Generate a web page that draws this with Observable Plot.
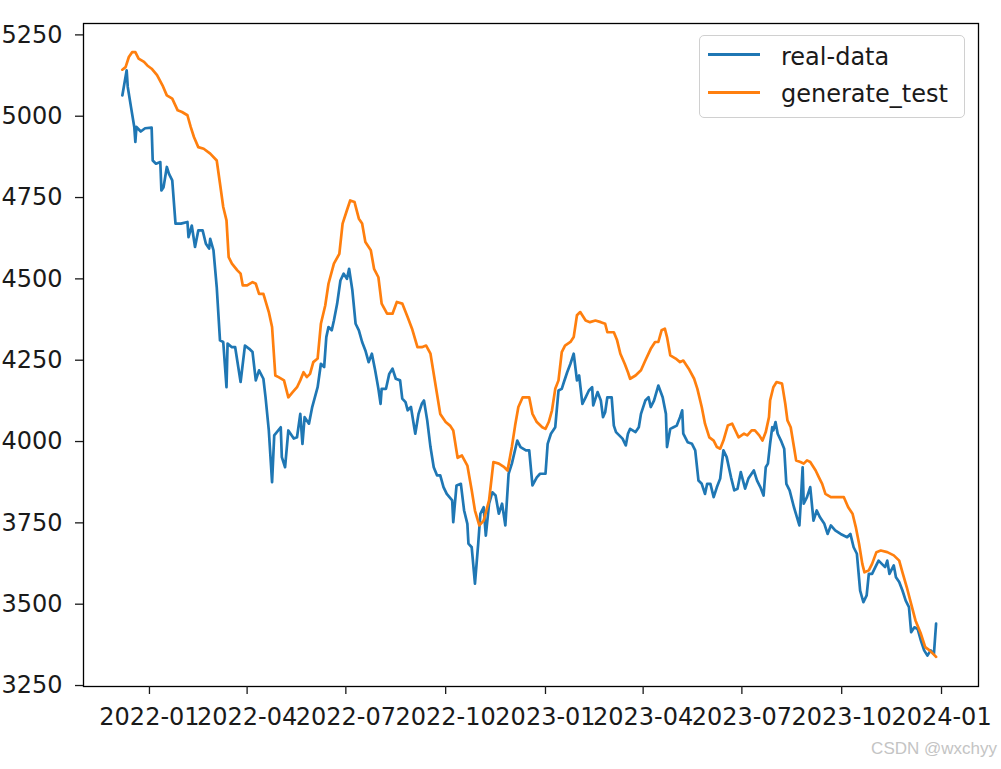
<!DOCTYPE html>
<html>
<head>
<meta charset="utf-8">
<script src="https://cdn.jsdelivr.net/npm/d3@7"></script>
<script src="https://cdn.jsdelivr.net/npm/@observablehq/plot@0.6"></script>
<style>
  html, body { margin: 0; padding: 0; background: #fff; }
  #wrap { position: relative; width: 1001px; height: 769px; overflow: hidden; background: #fff; }
  #wrap svg { position: absolute; left: 0; top: 0; }
  .legend-box { position: absolute; left: 699px; top: 35px; width: 264px; height: 81px;
    border: 1.5px solid #d0d0d0; border-radius: 5px; background: rgba(255,255,255,0.8); }
  .legend-line { position: absolute; left: 708px; width: 52px; height: 2.7px; }
  .legend-text { position: absolute; left: 781px; font-family: "DejaVu Sans", sans-serif; font-size: 24px; line-height: 24px; color: #1a1a1a; white-space: nowrap; }
  .mark { position: absolute; right: 4px; top: 740px; font-family: "Liberation Sans", Arial, sans-serif; font-size: 17px; line-height: 17px; color: #c4c4c4; white-space: nowrap; }
</style>
</head>
<body>
<div id="wrap"></div>
<script>
const seriesNames = ["real-data", "generate_test"];
const seriesColors = ["#1f77b4", "#ff7f0e"];
const watermark = "CSDN @wxchyy";

const xTickLabels = ["2022-01","2022-04","2022-07","2022-10","2023-01","2023-04","2023-07","2023-10","2024-01"];
const yTicks = [3250, 3500, 3750, 4000, 4250, 4500, 4750, 5000, 5250];

const realDates = ["2021-12-07","2021-12-11","2021-12-12","2021-12-15","2021-12-18","2021-12-19","2021-12-20","2021-12-24","2021-12-28","2022-01-03","2022-01-04","2022-01-07","2022-01-11","2022-01-12","2022-01-14","2022-01-17","2022-01-19","2022-01-22","2022-01-25","2022-01-30","2022-02-05","2022-02-06","2022-02-09","2022-02-12","2022-02-15","2022-02-19","2022-02-22","2022-02-25","2022-02-26","2022-03-01","2022-03-04","2022-03-07","2022-03-10","2022-03-13","2022-03-14","2022-03-18","2022-03-21","2022-03-26","2022-03-30","2022-04-03","2022-04-06","2022-04-09","2022-04-12","2022-04-16","2022-04-18","2022-04-21","2022-04-24","2022-04-26","2022-05-02","2022-05-03","2022-05-06","2022-05-09","2022-05-14","2022-05-17","2022-05-20","2022-05-22","2022-05-24","2022-05-28","2022-05-31","2022-06-05","2022-06-08","2022-06-11","2022-06-13","2022-06-15","2022-06-18","2022-06-20","2022-06-23","2022-06-26","2022-06-29","2022-07-02","2022-07-04","2022-07-07","2022-07-10","2022-07-13","2022-07-16","2022-07-19","2022-07-22","2022-07-25","2022-07-28","2022-07-31","2022-08-02","2022-08-03","2022-08-07","2022-08-10","2022-08-13","2022-08-16","2022-08-20","2022-08-22","2022-08-25","2022-08-27","2022-08-30","2022-09-02","2022-09-03","2022-09-06","2022-09-09","2022-09-11","2022-09-14","2022-09-17","2022-09-20","2022-09-23","2022-09-26","2022-09-29","2022-10-02","2022-10-07","2022-10-08","2022-10-11","2022-10-15","2022-10-18","2022-10-21","2022-10-22","2022-10-25","2022-10-28","2022-10-31","2022-11-02","2022-11-05","2022-11-07","2022-11-10","2022-11-13","2022-11-16","2022-11-19","2022-11-22","2022-11-25","2022-11-28","2022-12-01","2022-12-06","2022-12-09","2022-12-14","2022-12-17","2022-12-20","2022-12-24","2022-12-27","2023-01-01","2023-01-03","2023-01-06","2023-01-10","2023-01-13","2023-01-16","2023-01-18","2023-01-21","2023-01-24","2023-01-27","2023-01-30","2023-02-01","2023-02-04","2023-02-07","2023-02-10","2023-02-13","2023-02-14","2023-02-18","2023-02-21","2023-02-23","2023-02-25","2023-02-27","2023-03-03","2023-03-05","2023-03-07","2023-03-10","2023-03-13","2023-03-16","2023-03-18","2023-03-20","2023-03-25","2023-03-28","2023-03-30","2023-04-03","2023-04-06","2023-04-08","2023-04-11","2023-04-15","2023-04-19","2023-04-22","2023-04-23","2023-04-26","2023-04-29","2023-05-02","2023-05-05","2023-05-07","2023-05-08","2023-05-12","2023-05-16","2023-05-19","2023-05-22","2023-05-25","2023-05-28","2023-05-30","2023-06-02","2023-06-05","2023-06-08","2023-06-11","2023-06-14","2023-06-17","2023-06-21","2023-06-24","2023-06-27","2023-06-30","2023-07-04","2023-07-07","2023-07-12","2023-07-15","2023-07-18","2023-07-21","2023-07-23","2023-07-25","2023-07-27","2023-07-29","2023-07-30","2023-08-01","2023-08-03","2023-08-06","2023-08-09","2023-08-11","2023-08-14","2023-08-18","2023-08-23","2023-08-24","2023-08-26","2023-08-27","2023-08-30","2023-09-02","2023-09-05","2023-09-08","2023-09-11","2023-09-15","2023-09-18","2023-09-21","2023-09-25","2023-09-30","2023-10-06","2023-10-09","2023-10-12","2023-10-15","2023-10-18","2023-10-21","2023-10-24","2023-10-26","2023-10-29","2023-11-01","2023-11-04","2023-11-07","2023-11-10","2023-11-12","2023-11-14","2023-11-18","2023-11-20","2023-11-23","2023-11-26","2023-11-29","2023-12-02","2023-12-04","2023-12-07","2023-12-10","2023-12-13","2023-12-16","2023-12-19","2023-12-22","2023-12-25","2023-12-27"];
const realValues = [5064,5141,5090,5028,4967,4921,4967,4953,4963,4965,4864,4854,4859,4772,4782,4844,4823,4803,4670,4670,4675,4628,4664,4598,4649,4649,4608,4593,4623,4588,4475,4311,4306,4167,4301,4290,4290,4183,4295,4285,4275,4188,4219,4193,4136,4034,3875,4019,4044,3952,3921,4034,4009,4013,4085,3993,4075,4055,4106,4167,4239,4229,4321,4352,4342,4372,4424,4495,4516,4500,4531,4465,4362,4342,4306,4280,4244,4270,4219,4162,4116,4162,4162,4208,4224,4193,4188,4132,4121,4096,4106,4044,4024,4085,4116,4126,4065,3983,3921,3896,3896,3860,3839,3819,3752,3865,3870,3788,3747,3686,3675,3563,3686,3778,3798,3711,3809,3844,3834,3778,3809,3742,3901,3932,4003,3983,3973,3973,3865,3890,3901,3901,3993,4024,4044,4157,4162,4183,4213,4239,4270,4188,4203,4116,4136,4157,4167,4111,4152,4126,4075,4090,4136,4136,4049,4029,4019,4009,3988,4024,4039,4029,4044,4085,4126,4136,4106,4126,4172,4136,4085,3983,4039,4044,4049,4075,4096,4024,3998,3993,3973,3880,3870,3839,3870,3870,3829,3860,3886,3973,3952,3890,3850,3855,3906,3855,3886,3911,3880,3860,3834,3921,3932,3993,4044,4034,4060,4024,4003,3978,3870,3850,3798,3742,3798,3921,3809,3829,3860,3757,3788,3767,3747,3716,3742,3727,3716,3706,3716,3675,3655,3542,3506,3527,3593,3593,3614,3634,3624,3614,3634,3593,3619,3583,3568,3542,3511,3491,3414,3429,3424,3388,3358,3342,3358,3347,3440];

const genDates = ["2021-12-07","2021-12-10","2021-12-13","2021-12-16","2021-12-19","2021-12-22","2021-12-27","2021-12-30","2022-01-03","2022-01-08","2022-01-13","2022-01-17","2022-01-22","2022-01-27","2022-01-31","2022-02-05","2022-02-08","2022-02-11","2022-02-15","2022-02-20","2022-02-26","2022-03-04","2022-03-07","2022-03-10","2022-03-13","2022-03-15","2022-03-18","2022-03-23","2022-03-26","2022-03-28","2022-04-01","2022-04-06","2022-04-09","2022-04-12","2022-04-16","2022-04-21","2022-04-24","2022-04-27","2022-04-30","2022-05-05","2022-05-09","2022-05-13","2022-05-17","2022-05-20","2022-05-23","2022-05-26","2022-05-29","2022-06-01","2022-06-05","2022-06-08","2022-06-12","2022-06-15","2022-06-20","2022-06-25","2022-06-28","2022-07-02","2022-07-05","2022-07-09","2022-07-13","2022-07-16","2022-07-19","2022-07-24","2022-07-27","2022-07-31","2022-08-03","2022-08-08","2022-08-13","2022-08-17","2022-08-22","2022-08-27","2022-08-31","2022-09-05","2022-09-09","2022-09-13","2022-09-17","2022-09-22","2022-09-26","2022-10-01","2022-10-05","2022-10-08","2022-10-12","2022-10-16","2022-10-21","2022-10-25","2022-10-28","2022-11-01","2022-11-05","2022-11-10","2022-11-14","2022-11-19","2022-11-24","2022-11-27","2022-12-01","2022-12-04","2022-12-07","2022-12-11","2022-12-17","2022-12-20","2022-12-24","2022-12-29","2023-01-01","2023-01-04","2023-01-07","2023-01-10","2023-01-13","2023-01-16","2023-01-19","2023-01-24","2023-01-27","2023-01-30","2023-02-02","2023-02-07","2023-02-11","2023-02-16","2023-02-21","2023-02-25","2023-02-27","2023-03-05","2023-03-08","2023-03-11","2023-03-15","2023-03-18","2023-03-20","2023-03-25","2023-03-30","2023-04-03","2023-04-08","2023-04-12","2023-04-15","2023-04-18","2023-04-21","2023-04-23","2023-04-26","2023-05-01","2023-05-05","2023-05-08","2023-05-13","2023-05-18","2023-05-21","2023-05-25","2023-05-28","2023-06-01","2023-06-05","2023-06-08","2023-06-11","2023-06-14","2023-06-18","2023-06-22","2023-06-25","2023-06-28","2023-07-03","2023-07-06","2023-07-10","2023-07-13","2023-07-17","2023-07-20","2023-07-23","2023-07-26","2023-07-27","2023-07-30","2023-08-02","2023-08-07","2023-08-10","2023-08-12","2023-08-15","2023-08-18","2023-08-20","2023-08-24","2023-08-27","2023-08-30","2023-09-02","2023-09-07","2023-09-10","2023-09-13","2023-09-16","2023-09-21","2023-09-27","2023-10-03","2023-10-07","2023-10-11","2023-10-14","2023-10-17","2023-10-20","2023-10-22","2023-10-26","2023-10-29","2023-11-02","2023-11-06","2023-11-12","2023-11-18","2023-11-23","2023-11-26","2023-11-30","2023-12-04","2023-12-08","2023-12-13","2023-12-17","2023-12-21","2023-12-25","2023-12-27"];
const genValues = [5143,5151,5182,5197,5197,5177,5167,5156,5146,5126,5095,5064,5054,5018,5013,5003,4967,4936,4905,4900,4885,4864,4793,4721,4680,4567,4547,4526,4516,4480,4480,4490,4485,4454,4454,4398,4352,4203,4198,4188,4136,4152,4167,4188,4213,4198,4208,4244,4255,4362,4418,4485,4547,4577,4670,4711,4741,4736,4685,4670,4613,4588,4531,4505,4424,4393,4393,4429,4424,4382,4347,4290,4290,4295,4270,4167,4085,4060,4049,4034,3950,3957,3926,3850,3788,3742,3757,3819,3937,3932,3921,3911,3983,4049,4106,4136,4136,4085,4060,4044,4039,4060,4096,4162,4188,4275,4295,4306,4321,4388,4398,4372,4367,4372,4367,4362,4336,4336,4311,4270,4239,4213,4193,4203,4219,4249,4285,4306,4306,4342,4347,4321,4265,4255,4244,4249,4224,4193,4162,4106,4055,4013,4003,3983,3978,4003,4049,4055,4034,4013,4024,4019,4034,4034,4019,4003,4029,4075,4126,4167,4183,4178,4116,4065,4044,3983,3942,3937,3932,3942,3937,3911,3890,3870,3839,3829,3829,3829,3798,3778,3737,3686,3624,3598,3604,3624,3660,3665,3660,3650,3634,3598,3552,3501,3450,3409,3368,3358,3345,3338];

function toRows(dates, values) {
  const n = Math.min(dates.length, values.length);
  const rows = [];
  for (let i = 0; i < n; i++) rows.push({date: new Date(dates[i] + "T00:00:00Z"), value: values[i]});
  return rows;
}
const realRows = toRows(realDates, realValues);
const genRows = toRows(genDates, genValues);
const xTickDates = xTickLabels.map(s => new Date(s + "-01T00:00:00Z"));

const chart = Plot.plot({
  width: 1001,
  height: 769,
  marginTop: 23,
  marginBottom: 83,
  marginLeft: 83,
  marginRight: 23,
  style: {fontFamily: "DejaVu Sans", fontSize: "24px", color: "#1a1a1a", background: "transparent"},
  x: {type: "utc", domain: [new Date("2021-11-01T05:00:00Z"), new Date("2024-02-04T02:00:00Z")]},
  y: {domain: [3247, 5285]},
  marks: [
    Plot.line(realRows, {x: "date", y: "value", stroke: seriesColors[0], strokeWidth: 2.7}),
    Plot.line(genRows, {x: "date", y: "value", stroke: seriesColors[1], strokeWidth: 2.7}),
    Plot.frame({stroke: "#000", strokeWidth: 1.3}),
    Plot.axisX({ticks: xTickDates, tickFormat: d3.utcFormat("%Y-%m"), tickSize: 8, tickPadding: 13, strokeWidth: 1.3, label: null, fontSize: 24}),
    Plot.axisY({ticks: yTicks, tickFormat: d => String(d), tickSize: 8, tickPadding: 13, strokeWidth: 1.3, label: null, fontSize: 24})
  ]
});

const wrap = document.getElementById("wrap");
wrap.appendChild(chart);

// legend overlay
const box = document.createElement("div");
box.className = "legend-box";
wrap.appendChild(box);
const lineTops = [53, 91];
const textTops = [45, 82];
seriesNames.forEach((name, i) => {
  const ln = document.createElement("div");
  ln.className = "legend-line";
  ln.style.top = lineTops[i] + "px";
  ln.style.background = seriesColors[i];
  wrap.appendChild(ln);
  const tx = document.createElement("div");
  tx.className = "legend-text";
  tx.style.top = textTops[i] + "px";
  tx.textContent = name;
  wrap.appendChild(tx);
});

const wm = document.createElement("div");
wm.className = "mark";
wm.textContent = watermark;
wrap.appendChild(wm);
</script>
</body>
</html>
